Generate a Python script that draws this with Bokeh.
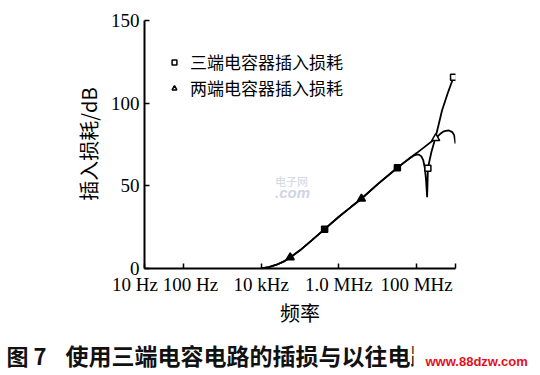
from bokeh.plotting import figure
from bokeh.layouts import column
from bokeh.models import (FixedTicker, Legend, LegendItem, Label,
                          CustomJSTickFormatter)
from bokeh.embed import file_html
from bokeh.resources import INLINE

# ---------------- data ----------------
# common part of both curves (frequency in Hz, insertion loss in dB)
shared_hz = [1e4, 1.58e4, 2.5e4, 4e4, 5.6e4, 1e5, 2e5, 4.3e5, 1e6, 2e6,
             3.8e6, 1e7, 3.2e7, 5e7, 6.9e7]
shared_db = [0, 0.8, 2.3, 4.5, 6.7, 11.0, 17.0, 23.8, 31.3, 37.0,
             42.2, 51.0, 60.9, 64.5, 67.0]

# three-terminal capacitor: tail after the common part
three_tail_hz = [8.3e7, 1.0e8, 1.15e8, 1.32e8, 1.48e8, 1.62e8, 1.74e8,
                 1.82e8, 1.86e8, 1.9e8, 1.95e8, 2.4e8, 3.0e8, 3.6e8,
                 4.5e8, 6.3e8, 8.9e8]
three_tail_db = [68.2, 68.9, 68.9, 67.8, 65.5, 61.0, 54.0,
                 47.0, 43.1, 50.0, 60.7, 70.5, 78.5, 86.0,
                 95.6, 106.0, 115.7]

# two-terminal capacitor: tail after the common part
two_tail_hz = [1e8, 1.58e8, 3.1e8, 4e8, 5e8, 6.6e8, 8.3e8, 9.3e8, 1e9]
two_tail_db = [69.8, 73.4, 78.8, 81.3, 83.0, 83.5, 82.5, 80.5, 75.5]

# markers
three_mark_hz = [4.3e5, 3.2e7, 1.95e8, 8.9e8]
three_mark_db = [23.8, 60.9, 60.7, 115.7]
two_mark_hz = [5.6e4, 3.8e6, 3.1e8]
two_mark_db = [6.7, 42.2, 78.8]

NB = "\u00a0"
x_ticks = [10, 100, 1e4, 1e6, 1e8, 1e9]
x_tick_labels = ["10 Hz" + NB * 4, NB * 3 + "100 Hz", "10 kHz",
                 "1.0 MHz", "100 MHz", ""]
y_ticks = [0, 50, 100, 150]

series_names = ["三端电容器插入损耗", "两端电容器插入损耗"]
x_title = "频率"
y_title = "插入损耗/dB"
caption_fig = "图 7"
caption_text = "使用三端电容电路的插损与以往电路"
watermark = "www.88dzw.com"

# ---------------- main figure ----------------
p = figure(width=540, height=334, x_axis_type="log",
           x_range=(10, 1e9), y_range=(0, 150),
           output_backend="svg", toolbar_location=None,
           min_border_left=144, min_border_right=85,
           min_border_top=20, min_border_bottom=66)
p.frame_align = False
p.outline_line_color = None
p.grid.visible = False

three_hz = shared_hz + three_tail_hz
three_db = shared_db + three_tail_db
two_hz = shared_hz + two_tail_hz
two_db = shared_db + two_tail_db

p.line(two_hz, two_db, line_color="black", line_width=1.8)
p.line(three_hz, three_db, line_color="black", line_width=1.8)

# filled markers on the common part, hollow markers further on
p.scatter(three_mark_hz[:2], three_mark_db[:2], marker="square", size=6,
          line_color="black", fill_color="black", line_width=1.5)
sq = p.scatter(three_mark_hz[2:], three_mark_db[2:], marker="square", size=6,
               line_color="black", fill_color="white", line_width=1.5)
p.scatter(two_mark_hz[:2], two_mark_db[:2], marker="triangle", size=8,
          line_color="black", fill_color="black", line_width=1.5)
tri = p.scatter(two_mark_hz[2:], two_mark_db[2:], marker="triangle", size=8,
                line_color="black", fill_color="white", line_width=1.5)

# axes
p.xaxis.ticker = FixedTicker(ticks=x_ticks)
p.xaxis.formatter = CustomJSTickFormatter(
    args=dict(tv=x_ticks, tl=x_tick_labels),
    code="const i = tv.indexOf(tick); return i >= 0 ? tl[i] : '';")
p.yaxis.ticker = FixedTicker(ticks=y_ticks)

for ax in (p.xaxis[0], p.yaxis[0]):
    ax.axis_line_width = 2
    ax.axis_line_color = "black"
    ax.major_tick_in = 5
    ax.major_tick_out = 0
    ax.minor_tick_in = 0
    ax.minor_tick_out = 0
    ax.major_tick_line_width = 1.5
    ax.major_tick_line_color = "black"
    ax.major_label_text_font = "Liberation Serif"
    ax.major_label_text_font_size = "19px"
    ax.major_label_text_color = "black"
    ax.major_label_standoff = 5
    ax.axis_label_text_font = "Noto Sans CJK SC"
    ax.axis_label_text_font_style = "normal"
    ax.axis_label_text_color = "black"

p.xaxis.axis_label = x_title
p.xaxis.axis_label_text_font_size = "20px"
p.xaxis.axis_label_standoff = 0
p.yaxis.axis_label = y_title
p.yaxis.axis_label_text_font_size = "20px"
p.yaxis.axis_label_standoff = 5

# legend
legend = Legend(items=[LegendItem(label=series_names[0], renderers=[sq]),
                       LegendItem(label=series_names[1], renderers=[tri])],
                location=(24, 168), border_line_color=None,
                background_fill_alpha=0, label_text_font="Noto Sans CJK SC",
                label_text_font_size="17px", label_text_color="black",
                glyph_width=12, glyph_height=18, label_height=18,
                label_standoff=10, spacing=1, padding=0, margin=0)
p.add_layout(legend)

# faint watermark inside the plot
p.add_layout(Label(x=147, y=88, x_units="screen", y_units="screen",
                   text="电子网", text_font="Noto Sans CJK SC",
                   text_font_size="11px", text_color="#cfd5e4",
                   text_align="center", text_baseline="middle"))
p.add_layout(Label(x=148, y=76, x_units="screen", y_units="screen",
                   text=".com", text_font="Liberation Sans",
                   text_font_size="15px", text_font_style="bold italic",
                   text_color="#cfd5e4", text_align="center",
                   text_baseline="middle"))

# ---------------- caption strip ----------------
c = figure(width=540, height=39, x_range=(0, 1), y_range=(0, 1),
           output_backend="svg", toolbar_location=None,
           x_axis_location=None, y_axis_location=None,
           min_border=0, min_border_left=0, min_border_right=0,
           min_border_top=0, min_border_bottom=0)
c.frame_align = False
c.grid.visible = False
c.outline_line_color = None

c.add_layout(Label(x=6, y=19, x_units="screen", y_units="screen",
                   text=caption_fig, text_font="Noto Sans CJK SC",
                   text_font_size="22px", text_font_style="bold",
                   text_color="#111111", text_baseline="middle"))
c.add_layout(Label(x=65, y=19, x_units="screen", y_units="screen",
                   text=caption_text, text_font="Noto Sans CJK SC",
                   text_font_size="23px", text_font_style="bold",
                   text_color="#111111", text_baseline="middle"))
c.add_layout(Label(x=413, y=12, x_units="screen", y_units="screen",
                   text=watermark, text_font="Liberation Sans",
                   text_font_size="13px", text_font_style="bold",
                   text_color="#e3101a", text_baseline="middle",
                   background_fill_color="white", padding=12))

layout = column(p, c, spacing=0)
open("out.html", "w").write(file_html(layout, INLINE))
